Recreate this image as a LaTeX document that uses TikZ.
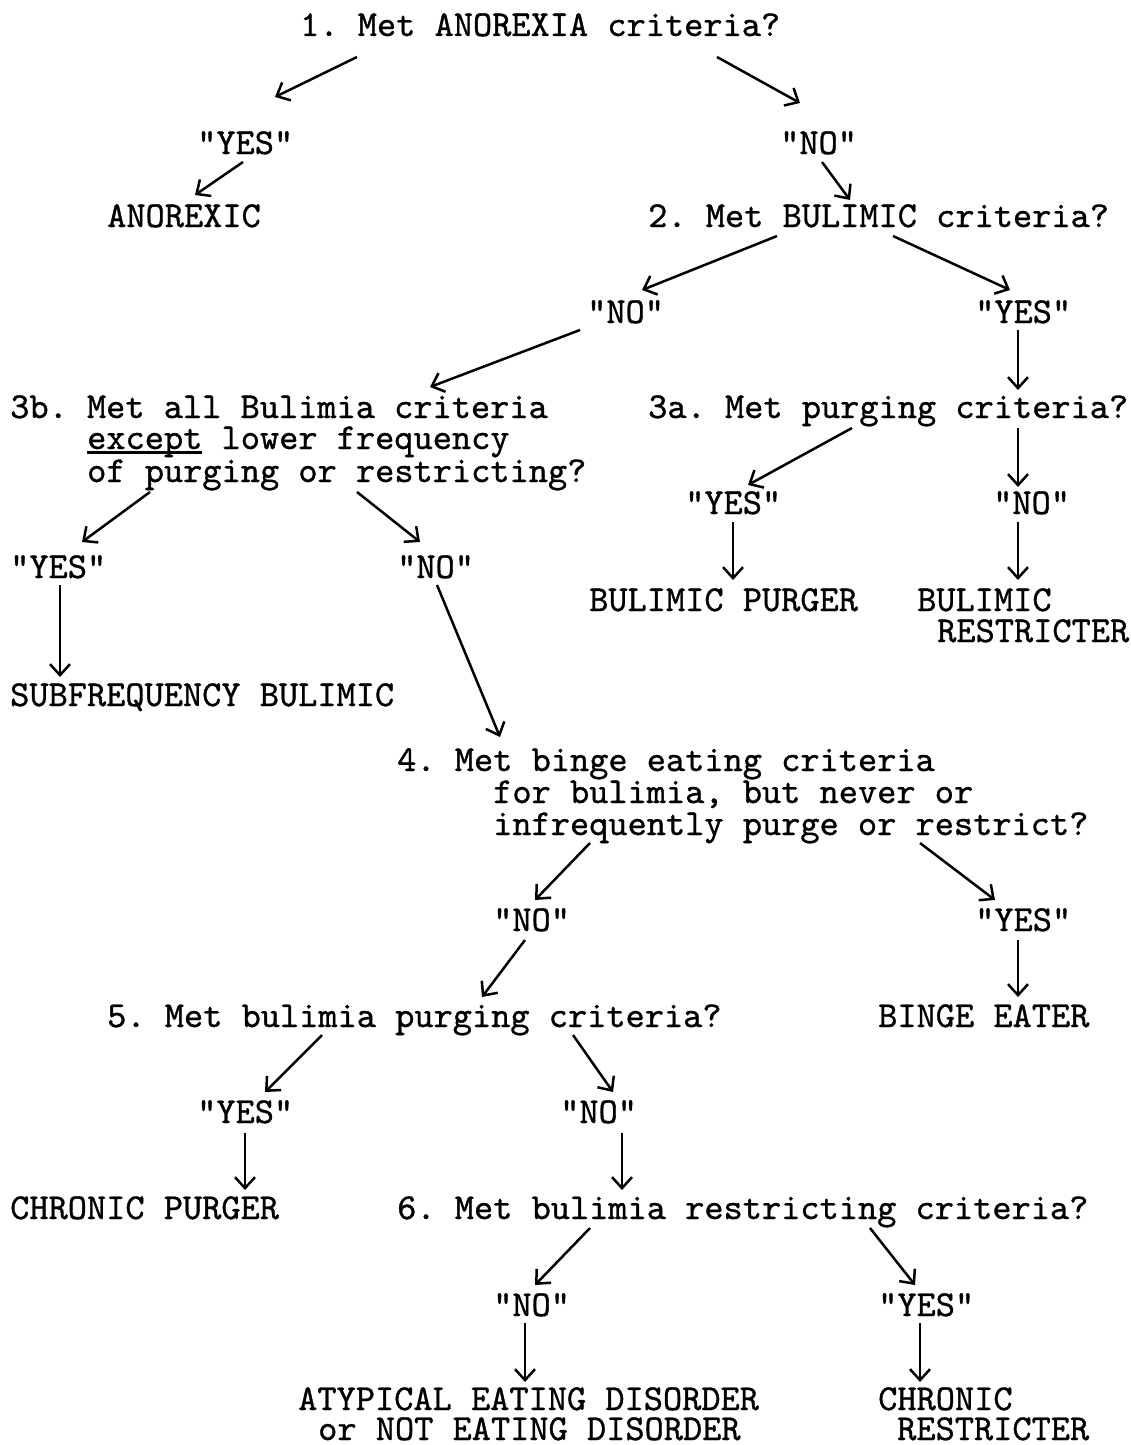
\documentclass[tikz,border=0pt]{standalone}
\usepackage{fontspec}
\newfontfamily\tw[FakeBold=0.9]{lmmono10-regular.otf}
\usetikzlibrary{arrows.meta}
\frenchspacing
\newsavebox\ulbox
\newcommand\myul[1]{\sbox\ulbox{#1}\rlap{\rule[-4.5pt]{\wd\ulbox}{2.2pt}}\usebox{\ulbox}}
\begin{document}
\begin{tikzpicture}[x=1pt,y=-1pt,
  lbl/.style={anchor=base west,inner sep=0pt,text height=23pt,text depth=5pt,font=\tw\fontsize{36.57}{36}\selectfont\frenchspacing},
  arr/.style={-{Straight Barb[length=11pt,width=20pt,line width=2.5pt]},line width=2.5pt}]
\useasboundingbox (0,0) rectangle (1131,1445);
% nodes
\node[lbl] (q1) at (300,36) {1. Met ANOREXIA criteria?};
\node[lbl] (y1) at (197,154) {"YES"};
\node[lbl] (n1) at (780,154) {"NO"};
\node[lbl] (anor) at (107,227) {ANOREXIC};
\node[lbl] (q2) at (648,227) {2. Met BULIMIC criteria?};
\node[lbl] (n2) at (587,323) {"NO"};
\node[lbl] (y2) at (975,323) {"YES"};
\node[lbl] (q3b) at (10,418) {3b. Met all Bulimia criteria};
\node[lbl] (q3bb) at (87,449) {\myul{except} lower frequency};
\node[lbl] (q3bc) at (87,482) {of purging or restricting?};
\node[lbl] (q3a) at (648,418) {3a. Met purging criteria?};
\node[lbl] (y3a) at (685,514) {"YES"};
\node[lbl] (n3a) at (993,514) {"NO"};
\node[lbl] (bpur) at (589,611) {BULIMIC PURGER};
\node[lbl] (bres) at (917,611) {BULIMIC};
\node[lbl] (bresb) at (937,642) {RESTRICTER};
\node[lbl] (y3b) at (10,578) {"YES"};
\node[lbl] (n3b) at (397,578) {"NO"};
\node[lbl] (subf) at (10,706) {SUBFREQUENCY BULIMIC};
\node[lbl] (q4) at (397,771) {4. Met binge eating criteria};
\node[lbl] (q4b) at (493,803) {for bulimia, but never or};
\node[lbl] (q4c) at (493,835) {infrequently purge or restrict?};
\node[lbl] (n4) at (493,931) {"NO"};
\node[lbl] (y4) at (975,931) {"YES"};
\node[lbl] (q5) at (107,1027) {5. Met bulimia purging criteria?};
\node[lbl] (binge) at (878,1027) {BINGE EATER};
\node[lbl] (y5) at (197,1123) {"YES"};
\node[lbl] (n5) at (560,1123) {"NO"};
\node[lbl] (cpur) at (10,1219) {CHRONIC PURGER};
\node[lbl] (q6) at (397,1219) {6. Met bulimia restricting criteria?};
\node[lbl] (n6) at (493,1316) {"NO"};
\node[lbl] (y6) at (878,1316) {"YES"};
\node[lbl] (atyp) at (298,1410) {ATYPICAL EATING DISORDER};
\node[lbl] (atypb) at (318,1440) {or NOT EATING DISORDER};
\node[lbl] (chr) at (878,1410) {CHRONIC};
\node[lbl] (chrb) at (897,1440) {RESTRICTER};
% connectors
\draw[arr] ([shift={(57,21)}]q1.base west) -- ([shift={(78,-57)}]y1.base west);
\draw[arr] ([shift={(417,21)}]q1.base west) -- ([shift={(20,-51)}]n1.base west);
\draw[arr] ([shift={(46,8)}]y1.base west) -- ([shift={(88,-32)}]anor.base west);
\draw[arr] ([shift={(42,8)}]n1.base west) -- ([shift={(202,-27)}]q2.base west);
\draw[arr] ([shift={(129,9)}]q2.base west) -- ([shift={(55,-33)}]n2.base west);
\draw[arr] ([shift={(245,9)}]q2.base west) -- ([shift={(35,-33)}]y2.base west);
\draw[arr] ([shift={(-7,7)}]n2.base west) -- ([shift={(420,-31)}]q3b.base west);
\draw[arr] ([shift={(43,7)}]y2.base west) -- ([shift={(370,-28)}]q3a.base west);
\draw[arr] ([shift={(204,10)}]q3a.base west) -- ([shift={(63,-29)}]y3a.base west);
\draw[arr] ([shift={(370,10)}]q3a.base west) -- ([shift={(25,-27)}]n3a.base west);
\draw[arr] ([shift={(48,8)}]y3a.base west) -- ([shift={(144,-31)}]bpur.base west);
\draw[arr] ([shift={(25,8)}]n3a.base west) -- ([shift={(101,-31)}]bres.base west);
\draw[arr] ([shift={(63,10)}]q3bc.base west) -- ([shift={(72,-36)}]y3b.base west);
\draw[arr] ([shift={(270,10)}]q3bc.base west) -- ([shift={(23,-36)}]n3b.base west);
\draw[arr] ([shift={(50,7)}]y3b.base west) -- ([shift={(50,-29)}]subf.base west);
\draw[arr] ([shift={(40,7)}]n3b.base west) -- ([shift={(103,-34)}]q4.base west);
\draw[arr] ([shift={(97,8)}]q4c.base west) -- ([shift={(42,-31)}]n4.base west);
\draw[arr] ([shift={(427,8)}]q4c.base west) -- ([shift={(20,-31)}]y4.base west);
\draw[arr] ([shift={(32,9)}]n4.base west) -- ([shift={(375,-30)}]q5.base west);
\draw[arr] ([shift={(43,9)}]y4.base west) -- ([shift={(140,-30)}]binge.base west);
\draw[arr] ([shift={(215,8)}]q5.base west) -- ([shift={(68,-31)}]y5.base west);
\draw[arr] ([shift={(466,8)}]q5.base west) -- ([shift={(53,-31)}]n5.base west);
\draw[arr] ([shift={(48,10)}]y5.base west) -- ([shift={(235,-29)}]cpur.base west);
\draw[arr] ([shift={(62,10)}]n5.base west) -- ([shift={(225,-29)}]q6.base west);
\draw[arr] ([shift={(193,9)}]q6.base west) -- ([shift={(42,-31)}]n6.base west);
\draw[arr] ([shift={(473,9)}]q6.base west) -- ([shift={(37,-31)}]y6.base west);
\draw[arr] ([shift={(32,7)}]n6.base west) -- ([shift={(227,-28)}]atyp.base west);
\draw[arr] ([shift={(42,7)}]y6.base west) -- ([shift={(42,-28)}]chr.base west);
\end{tikzpicture}
\end{document}
